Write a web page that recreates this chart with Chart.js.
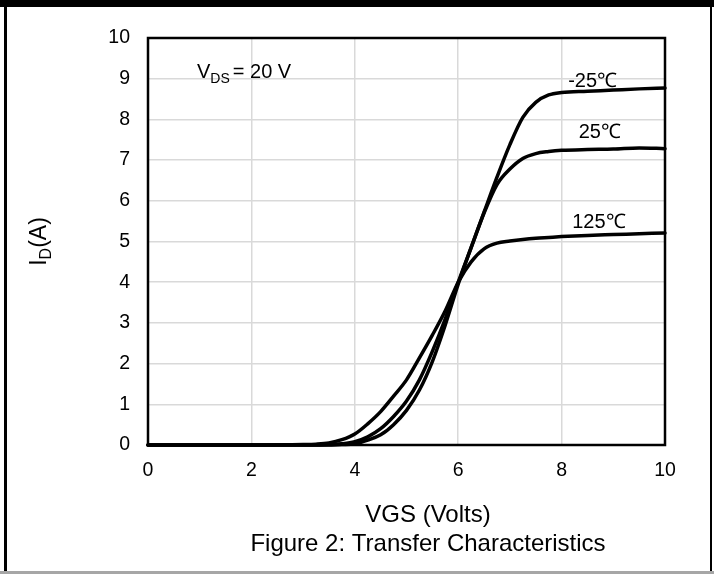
<!DOCTYPE html>
<html><head><meta charset="utf-8">
<script src="https://cdn.jsdelivr.net/npm/chart.js@4"></script>
<style>html,body{margin:0;padding:0;background:#fff}#wrap{width:714px;height:574px;position:relative}canvas{display:block}</style>
</head><body><div id="wrap"><canvas id="c" width="714" height="574"></canvas></div>
<script>
// ---- data ----
const vgs    = [0, 1, 2, 3, 3.25, 3.5, 3.75, 4, 4.25, 4.5, 4.75, 5, 5.25, 5.5, 5.75, 6, 6.25, 6.5, 6.75, 7, 7.25, 7.5, 7.75, 8, 8.5, 9, 9.5, 10];
const idM25  = [0, 0, 0, 0, 0, 0, 0.01, 0.03, 0.12, 0.25, 0.5, 0.85, 1.35, 2.05, 2.95, 3.95, 4.85, 5.72, 6.58, 7.38, 8.05, 8.42, 8.6, 8.66, 8.69, 8.72, 8.75, 8.77];
const id25   = [0, 0, 0, 0, 0, 0.01, 0.03, 0.08, 0.2, 0.4, 0.7, 1.08, 1.6, 2.3, 3.1, 4.0, 4.85, 5.7, 6.4, 6.78, 7.04, 7.16, 7.21, 7.24, 7.26, 7.27, 7.3, 7.28];
const id125  = [0, 0, 0, 0.01, 0.02, 0.05, 0.13, 0.27, 0.52, 0.82, 1.2, 1.6, 2.14, 2.7, 3.3, 4.0, 4.5, 4.82, 4.96, 5.01, 5.05, 5.08, 5.1, 5.12, 5.15, 5.17, 5.19, 5.21];
const seriesNames = ['-25℃', '25℃', '125℃'];
const xTicks = [0, 2, 4, 6, 8, 10];
const yTicks = [0, 1, 2, 3, 4, 5, 6, 7, 8, 9, 10];
const xTitle = 'VGS (Volts)';
const figTitle = 'Figure 2: Transfer Characteristics';

const FONT = '"Liberation Sans", Arial, sans-serif';
const toPts = arr => vgs.map((v, i) => ({x: v, y: arr[i]}));
const series = [idM25, id25, id125];

// label anchor positions in data units (center x, baseline y)
const labelAnchors = [[8.6, 8.8], [8.74, 7.54], [8.72, 5.32]];

const deco = {
  id: 'deco',
  beforeDraw(chart) {
    const ctx = chart.ctx;
    ctx.save(); ctx.fillStyle = '#fff'; ctx.fillRect(0, 0, chart.width, chart.height); ctx.restore();
  },
  beforeDatasetsDraw(chart) {
    const ctx = chart.ctx, a = chart.chartArea;
    ctx.save();
    ctx.strokeStyle = '#000'; ctx.lineWidth = 2.5;
    ctx.strokeRect(a.left, a.top, a.right - a.left, a.bottom - a.top);
    ctx.restore();
  },
  afterDraw(chart) {
    const ctx = chart.ctx, a = chart.chartArea;
    const xs = chart.scales.x, ys = chart.scales.y;
    ctx.save();
    // outer frame
    ctx.fillStyle = '#000';
    ctx.fillRect(0, 0, 714, 7);
    ctx.fillRect(4, 0, 3, 574);
    ctx.fillRect(710, 0, 2, 574);
    ctx.fillStyle = '#a6a6a6';
    ctx.fillRect(0, 571, 714, 3);

    ctx.fillStyle = '#000';
    // curve labels
    ctx.font = '20px ' + FONT; ctx.textAlign = 'center'; ctx.textBaseline = 'alphabetic';
    seriesNames.forEach((n, i) => {
      ctx.fillText(n, xs.getPixelForValue(labelAnchors[i][0]), ys.getPixelForValue(labelAnchors[i][1]));
    });

    // V_DS annotation
    ctx.textAlign = 'left';
    let x0 = 197, b = 78;
    ctx.font = '20px ' + FONT; ctx.fillText('V', x0, b); x0 += ctx.measureText('V').width;
    ctx.font = '14px ' + FONT; ctx.fillText('DS', x0, b + 5); x0 += ctx.measureText('DS').width + 3;
    ctx.font = '20px ' + FONT; ctx.fillText('= 20 V', x0, b);

    // x axis title & figure caption
    ctx.textAlign = 'center';
    ctx.font = '24px ' + FONT;
    ctx.fillText(xTitle, 428, 522);
    ctx.fillText(figTitle, 428, 551);

    // y axis title I_D(A), rotated
    ctx.translate(46, (a.top + a.bottom) / 2);
    ctx.rotate(-Math.PI / 2);
    ctx.textAlign = 'left';
    ctx.font = '23px ' + FONT; const wI = ctx.measureText('I').width, wA = ctx.measureText('(A)').width;
    ctx.font = '16px ' + FONT; const wD = ctx.measureText('D').width;
    let sx = -(wI + wD + wA) / 2;
    ctx.font = '23px ' + FONT; ctx.fillText('I', sx, 0); sx += wI;
    ctx.font = '16px ' + FONT; ctx.fillText('D', sx, 5); sx += wD;
    ctx.font = '23px ' + FONT; ctx.fillText('(A)', sx, 0);
    ctx.restore();
  }
};

new Chart(document.getElementById('c'), {
  type: 'line',
  data: {
    datasets: series.map((s, i) => ({
      label: seriesNames[i],
      data: toPts(s),
      borderColor: '#000',
      borderWidth: 3.5,
      pointRadius: 0,
      fill: false,
      cubicInterpolationMode: 'monotone',
      borderCapStyle: 'round',
      borderJoinStyle: 'round',
      clip: false
    }))
  },
  options: {
    responsive: false,
    animation: false,
    events: [],
    layout: {padding: {left: 0, top: 38, right: 49, bottom: 0}},
    plugins: {legend: {display: false}, title: {display: false}, tooltip: {enabled: false}},
    scales: {
      x: {
        type: 'linear', min: 0, max: 10,
        afterBuildTicks: s => { s.ticks = xTicks.map(v => ({value: v})); },
        afterFit: s => { s.height = 129; },
        ticks: {color: '#000', font: {size: 19.5, family: FONT}, padding: 14, maxRotation: 0},
        grid: {color: '#d9d9d9', lineWidth: 1.5, drawTicks: false},
        border: {display: false}
      },
      y: {
        type: 'linear', min: 0, max: 10,
        afterBuildTicks: s => { s.ticks = yTicks.map(v => ({value: v})); },
        afterFit: s => { s.width = 148; },
        ticks: {color: '#000', font: {size: 19.5, family: FONT}, padding: 18},
        grid: {color: '#d9d9d9', lineWidth: 1.5, drawTicks: false},
        border: {display: false}
      }
    }
  },
  plugins: [deco]
});
</script>
</body></html>
